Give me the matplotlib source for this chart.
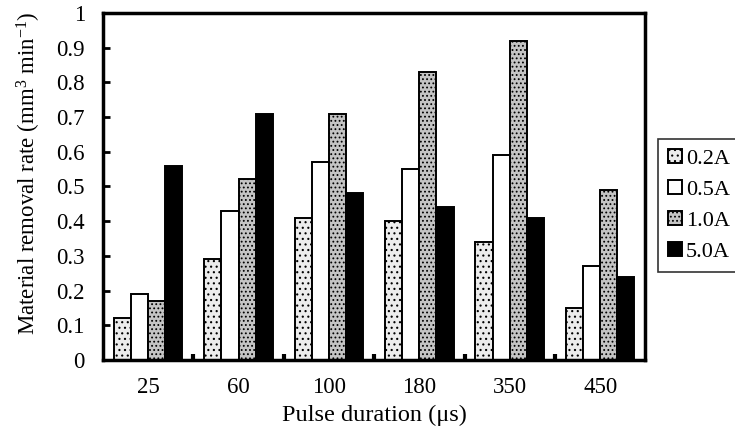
import numpy as np
import matplotlib
matplotlib.use("Agg")
import matplotlib.pyplot as plt
from matplotlib.ticker import FixedLocator

plt.rcParams["font.family"] = ["Liberation Serif", "DejaVu Serif"]
plt.rcParams["mathtext.fontset"] = "custom"
plt.rcParams["mathtext.rm"] = "Liberation Serif"
plt.rcParams["mathtext.it"] = "Liberation Serif:italic"
plt.rcParams["hatch.linewidth"] = 0.8

# pulse durations (us) and removal rate per current level
durations = ["25", "60", "100", "180", "350", "450"]
currents = ["0.2A", "0.5A", "1.0A", "5.0A"]
rate_02A = [0.12, 0.29, 0.41, 0.40, 0.34, 0.15]
rate_05A = [0.19, 0.43, 0.57, 0.55, 0.59, 0.27]
rate_10A = [0.17, 0.52, 0.71, 0.83, 0.92, 0.49]
rate_50A = [0.56, 0.71, 0.48, 0.44, 0.41, 0.24]
yticks = ["0", "0.1", "0.2", "0.3", "0.4", "0.5", "0.6", "0.7", "0.8", "0.9", "1"]

series = [rate_02A, rate_05A, rate_10A, rate_50A]
faces = ["#ececec", "white", "#c4c4c4", "black"]
hatches = ["...", None, "....", None]

fig = plt.figure(figsize=(7.35, 4.3), dpi=100)
ax = fig.add_axes([0.140, 0.163, 0.738, 0.807])

x = np.arange(len(durations))
w = 0.19
for i, (vals, fc, h) in enumerate(zip(series, faces, hatches)):
    ax.bar(x + (i - 1.5) * w, vals, w, color=fc, edgecolor="black",
           linewidth=1.4, hatch=h, label=currents[i])

ax.set_xlim(-0.5, len(durations) - 0.5)
ax.set_ylim(0, 1)
ax.set_yticks(np.linspace(0, 1, len(yticks)))
ax.set_yticklabels(yticks)
ax.set_xticks(x)
ax.set_xticklabels(durations)
ax.xaxis.set_minor_locator(FixedLocator(x[:-1] + 0.5))

ax.tick_params(axis="y", direction="in", length=5, width=2, labelsize=16.5, pad=13)
ax.tick_params(axis="x", which="major", length=0, labelsize=16.5, pad=12)
ax.tick_params(axis="x", which="minor", direction="in", length=4, width=3)
for s in ax.spines.values():
    s.set_linewidth(2.5)

ax.set_xlabel("Pulse duration (\u03bcs)", fontsize=17.5, labelpad=5)
ax.set_ylabel(r"Material removal rate (mm$^{3}$ min$^{-1}$)", fontsize=16.5)
ax.yaxis.set_label_coords(-0.111, 0.539)

leg = ax.legend(loc="upper left", bbox_to_anchor=(1.024, 0.637), borderaxespad=0,
                fontsize=16, frameon=True, fancybox=False, edgecolor="black",
                handlelength=0.6, handleheight=0.6, handletextpad=0.2,
                labelspacing=0.5, borderpad=0.45)
leg.get_frame().set_linewidth(1.2)

fig.savefig("out.png", dpi=100)
